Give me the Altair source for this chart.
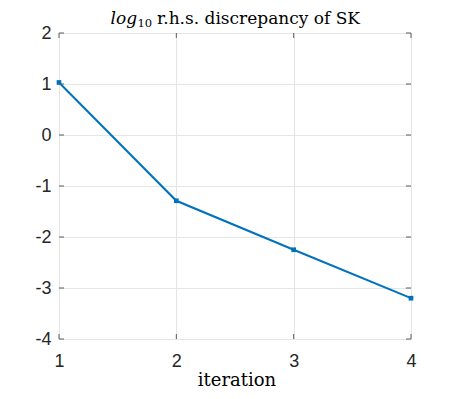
import altair as alt
import pandas as pd

iterations = [1, 2, 3, 4]
discrepancy = [1.03, -1.29, -2.25, -3.20]
x_ticks = [1, 2, 3, 4]
y_ticks = [-4, -3, -2, -1, 0, 1, 2]
title_main = "log"
title_sub = "10"
title_rest = "r.h.s. discrepancy of SK"
x_title = "iteration"

W, H = 352, 306
BLUE = "#0072BD"
AX = "#262626"
BOX = "#5c5c5c"
SERIF = "DejaVu Serif"

df = pd.DataFrame({"it": iterations, "val": discrepancy})
xt = pd.DataFrame({"t": x_ticks})
yt = pd.DataFrame({"t": y_ticks})

xs = alt.Scale(domain=[1, 4], nice=False, zero=False)
ys = alt.Scale(domain=[-4, 2], nice=False, zero=False)

xaxis = alt.Axis(values=x_ticks, ticks=False, domain=False, grid=True,
                 gridColor="#e5e5e5", labelFont="Liberation Sans", labelFontSize=18,
                 labelColor=AX, labelPadding=13, labelFlush=False, labelOverlap=False,
                 labelExpr="'' + datum.value", title=None)
yaxis = alt.Axis(values=y_ticks, ticks=False, domain=False, grid=True,
                 gridColor="#e5e5e5", labelFont="Liberation Sans", labelFontSize=18,
                 labelColor=AX, labelPadding=8, labelFlush=False, labelOverlap=False,
                 labelExpr="'' + datum.value", title=None)

line = alt.Chart(df).mark_line(color=BLUE, strokeWidth=2).encode(
    x=alt.X("it:Q", scale=xs, axis=xaxis),
    y=alt.Y("val:Q", scale=ys, axis=yaxis),
)
pts = alt.Chart(df).mark_point(shape="square", filled=True, size=22, color=BLUE, opacity=1).encode(
    x=alt.X("it:Q", scale=xs),
    y=alt.Y("val:Q", scale=ys),
)

tk = dict(color=BOX, strokeWidth=1)
xt_bot = alt.Chart(xt).mark_rule(**tk).encode(x=alt.X("t:Q", scale=xs), y=alt.value(H), y2=alt.value(H - 5))
xt_top = alt.Chart(xt).mark_rule(**tk).encode(x=alt.X("t:Q", scale=xs), y=alt.value(0), y2=alt.value(5))
yt_l = alt.Chart(yt).mark_rule(**tk).encode(y=alt.Y("t:Q", scale=ys), x=alt.value(0), x2=alt.value(5))
yt_r = alt.Chart(yt).mark_rule(**tk).encode(y=alt.Y("t:Q", scale=ys), x=alt.value(W), x2=alt.value(W - 5))

TB = -9
t1 = alt.Chart(pd.DataFrame({"s": [title_main]})).mark_text(
    font=SERIF, fontSize=17, fontStyle="italic", align="left", baseline="alphabetic",
    color="black").encode(text="s:N", x=alt.value(51.5), y=alt.value(TB))
t2 = alt.Chart(pd.DataFrame({"s": [title_sub]})).mark_text(
    font=SERIF, fontSize=11.5, align="left", baseline="alphabetic",
    color="black").encode(text="s:N", x=alt.value(78.5), y=alt.value(TB + 3))
t3 = alt.Chart(pd.DataFrame({"s": [title_rest]})).mark_text(
    font=SERIF, fontSize=17, align="left", baseline="alphabetic",
    color="black").encode(text="s:N", x=alt.value(98), y=alt.value(TB))

xl = alt.Chart(pd.DataFrame({"s": [x_title]})).mark_text(
    font=SERIF, fontSize=18, align="center", baseline="alphabetic",
    color="black").encode(text="s:N", x=alt.value(W / 2 + 2), y=alt.value(H + 47))

chart = alt.layer(line, pts, xt_bot, xt_top, yt_l, yt_r, t1, t2, t3, xl).properties(
    width=W, height=H,
    autosize=alt.AutoSizeParams(type="none"),
    padding={"left": 51, "top": 25, "right": 36, "bottom": 52},
).configure_view(stroke=BOX, strokeWidth=1).configure(background="white")

chart.save("out.html", embed_options={"renderer": "svg", "actions": False})
